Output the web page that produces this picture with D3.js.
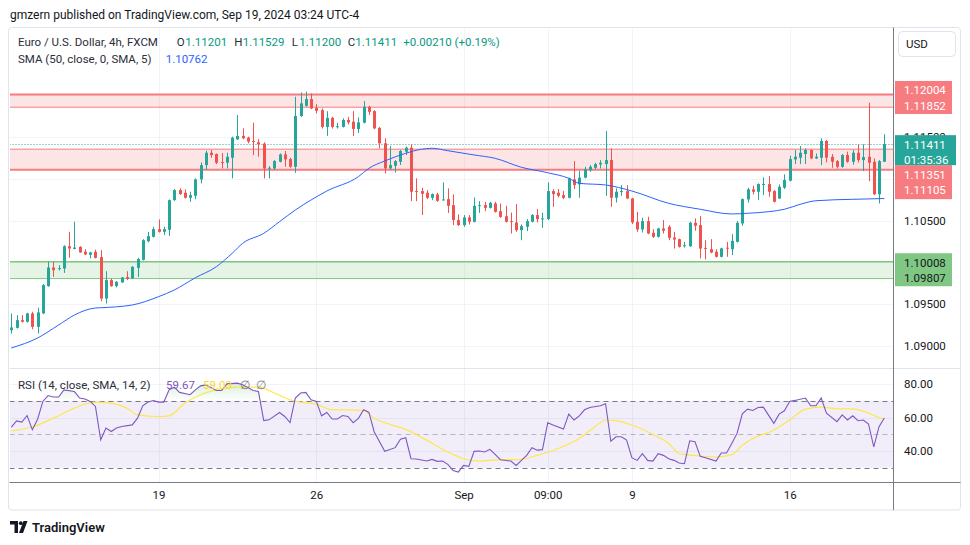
<!DOCTYPE html>
<html><head><meta charset="utf-8">
<script src="https://cdn.jsdelivr.net/npm/d3@7"></script>
<style>
body{margin:0;background:#fff;}
svg{display:block;font-family:Roboto,"Noto Sans",sans-serif;}
</style>
</head><body>
<svg id="c" width="970" height="545"></svg>
<script>
// ---------- DATA ----------
const opens=[1.09191,1.09219,1.09311,1.09291,1.09391,1.09231,1.09391,1.09717,1.09939,1.09919,1.09927,1.10193,1.10161,1.10185,1.10127,1.10091,1.10127,1.10063,1.09569,1.09789,1.09717,1.09761,1.09825,1.09809,1.09935,1.10031,1.10253,1.10305,1.10397,1.10365,1.10389,1.10743,1.10863,1.10831,1.10771,1.10795,1.10991,1.11161,1.11309,1.11293,1.11197,1.11189,1.11249,1.11469,1.11509,1.11489,1.11449,1.11433,1.11417,1.11121,1.11121,1.11201,1.11289,1.11233,1.11141,1.11747,1.11869,1.11949,1.11845,1.11817,1.11617,1.11725,1.11617,1.11617,1.11699,1.11679,1.11593,1.11667,1.11857,1.11805,1.11605,1.11421,1.11121,1.11153,1.11201,1.11321,1.11369,1.10851,1.10851,1.10831,1.10771,1.10811,1.10743,1.10755,1.10683,1.10505,1.10445,1.10537,1.10485,1.10675,1.10683,1.10651,1.10703,1.10611,1.10551,1.10493,1.10477,1.10385,1.10425,1.10485,1.10565,1.10521,1.10517,1.10851,1.10831,1.10803,1.10771,1.10991,1.10931,1.11011,1.11101,1.11129,1.11169,1.11173,1.11221,1.10771,1.10843,1.10851,1.10763,1.10485,1.10393,1.10493,1.10353,1.10305,1.10405,1.10425,1.10297,1.10277,1.10193,1.10193,1.10473,1.10445,1.10173,1.10157,1.10127,1.10067,1.10175,1.10157,1.10245,1.10465,1.10751,1.10871,1.10843,1.10927,1.10935,1.10851,1.10763,1.10891,1.10975,1.11229,1.11249,1.11293,1.11341,1.11241,1.11249,1.11449,1.11261,1.11209,1.11141,1.11281,1.11201,1.11309,1.11221,1.11261,1.11201,1.10813,1.11201];
const highs=[1.09391,1.09371,1.09371,1.09399,1.09411,1.09459,1.09741,1.10007,1.10007,1.09967,1.10205,1.10365,1.10485,1.10193,1.10157,1.10127,1.10153,1.10147,1.09895,1.09809,1.09777,1.09825,1.09895,1.09955,1.10055,1.10277,1.10365,1.10425,1.10513,1.10425,1.10751,1.10875,1.10883,1.10871,1.10843,1.11003,1.11193,1.11333,1.11341,1.11301,1.11305,1.11309,1.11501,1.11759,1.11599,1.11501,1.11667,1.11473,1.11433,1.11149,1.11221,1.11301,1.11329,1.11249,1.11977,1.12029,1.12037,1.12017,1.11889,1.11837,1.11805,1.11737,1.11667,1.11719,1.11737,1.11805,1.11731,1.11925,1.11869,1.11817,1.11617,1.11481,1.11389,1.11221,1.11341,1.11381,1.11409,1.11003,1.10891,1.10863,1.10823,1.10831,1.10955,1.10883,1.10811,1.10573,1.10565,1.10565,1.10775,1.10731,1.10723,1.10723,1.10723,1.10703,1.10675,1.10595,1.10695,1.10453,1.10517,1.10577,1.10637,1.10593,1.10955,1.10875,1.10875,1.10855,1.11011,1.11209,1.11091,1.11141,1.11161,1.11189,1.11221,1.11569,1.11361,1.10883,1.10923,1.10923,1.10771,1.10603,1.10533,1.10545,1.10397,1.10413,1.10505,1.10445,1.10365,1.10285,1.10245,1.10485,1.10525,1.10553,1.10265,1.10277,1.10157,1.10175,1.10245,1.10337,1.10493,1.10763,1.10891,1.10915,1.10943,1.11015,1.11031,1.10863,1.10931,1.11051,1.11273,1.11341,1.11389,1.11361,1.11349,1.11301,1.11481,1.11461,1.11293,1.11221,1.11293,1.11321,1.11341,1.11409,1.11409,1.11905,1.11241,1.11221,1.11529];
const lows=[1.09151,1.09211,1.09283,1.09283,1.09203,1.09151,1.09383,1.09709,1.09827,1.09903,1.09875,1.10055,1.10157,1.10115,1.10087,1.10047,1.10047,1.09537,1.09509,1.09709,1.09701,1.09757,1.09789,1.09801,1.09827,1.10023,1.10237,1.10297,1.10357,1.10325,1.10317,1.10735,1.10803,1.10763,1.10723,1.10755,1.10943,1.11105,1.11249,1.11173,1.11121,1.11121,1.11003,1.11461,1.11469,1.11421,1.11281,1.11261,1.11003,1.11003,1.11101,1.11193,1.11141,1.11129,1.11069,1.11739,1.11857,1.11829,1.11777,1.11597,1.11509,1.11597,1.11597,1.11609,1.11647,1.11509,1.11545,1.11659,1.11759,1.11589,1.11361,1.11061,1.11109,1.11073,1.11161,1.11281,1.10731,1.10731,1.10565,1.10755,1.10743,1.10723,1.10739,1.10591,1.10445,1.10433,1.10425,1.10453,1.10477,1.10591,1.10611,1.10643,1.10595,1.10531,1.10477,1.10345,1.10365,1.10265,1.10373,1.10477,1.10477,1.10413,1.10505,1.10663,1.10775,1.10755,1.10763,1.10875,1.10771,1.11003,1.11081,1.11113,1.11121,1.10795,1.10663,1.10715,1.10795,1.10755,1.10457,1.10365,1.10357,1.10337,1.10293,1.10297,1.10345,1.10265,1.10165,1.10177,1.10177,1.10185,1.10377,1.10047,1.10035,1.10109,1.10059,1.10059,1.10067,1.10087,1.10237,1.10437,1.10715,1.10811,1.10743,1.10803,1.10783,1.10715,1.10755,1.10875,1.10967,1.11173,1.11173,1.11173,1.11233,1.11233,1.11161,1.11193,1.11129,1.11121,1.11129,1.11189,1.11165,1.11193,1.11089,1.10969,1.10803,1.10703,1.11200];
const closes=[1.09223,1.09311,1.09291,1.09391,1.09231,1.09403,1.09729,1.09939,1.09907,1.09931,1.10193,1.10165,1.10177,1.10119,1.10095,1.10119,1.10055,1.09569,1.09789,1.09717,1.09769,1.09821,1.09805,1.09947,1.10039,1.10265,1.10313,1.10397,1.10365,1.10397,1.10743,1.10863,1.10815,1.10771,1.10803,1.10991,1.11161,1.11309,1.11281,1.11189,1.11189,1.11261,1.11489,1.11509,1.11481,1.11441,1.11437,1.11409,1.11121,1.11129,1.11209,1.11289,1.11229,1.11141,1.11747,1.11897,1.11949,1.11837,1.11809,1.11617,1.11725,1.11617,1.11625,1.11699,1.11671,1.11593,1.11671,1.11857,1.11797,1.11599,1.11421,1.11121,1.11161,1.11209,1.11329,1.11369,1.10843,1.10843,1.10819,1.10771,1.10815,1.10735,1.10751,1.10675,1.10505,1.10445,1.10537,1.10485,1.10675,1.10683,1.10651,1.10711,1.10603,1.10543,1.10485,1.10485,1.10385,1.10433,1.10493,1.10565,1.10517,1.10525,1.10851,1.10815,1.10795,1.10771,1.11003,1.10923,1.11011,1.11113,1.11141,1.11173,1.11189,1.11221,1.10771,1.10843,1.10851,1.10763,1.10477,1.10393,1.10493,1.10345,1.10305,1.10405,1.10377,1.10293,1.10273,1.10185,1.10205,1.10473,1.10437,1.10165,1.10165,1.10117,1.10067,1.10167,1.10167,1.10257,1.10473,1.10755,1.10871,1.10843,1.10935,1.10935,1.10843,1.10723,1.10903,1.10983,1.11233,1.11261,1.11309,1.11341,1.11241,1.11261,1.11449,1.11249,1.11201,1.11141,1.11281,1.11201,1.11309,1.11221,1.11257,1.11189,1.10813,1.11209,1.11411];

const smaBars=[0,5,9,12,16,17,23,28,31,35,39,42,44,48,51,54,57,60,66,68,71,75,78,80,83,88,92,97,102,106,108,113,118,125,131,137,140,144,147,150,153,160,166];
const smaVals=[1.08979,1.09098,1.09253,1.09372,1.09456,1.09459,1.09492,1.09591,1.09671,1.09817,1.09949,1.10109,1.10228,1.10347,1.10486,1.10625,1.10745,1.10852,1.11023,1.11123,1.11210,1.11302,1.11350,1.11362,1.11333,1.11282,1.11242,1.11135,1.11070,1.11004,1.10944,1.10924,1.10852,1.10705,1.10634,1.10578,1.10586,1.10605,1.10634,1.10693,1.10736,1.10753,1.10762];

const rsiBars=[0,1,2,3,4,5,6,7,8,9,10,12,13,14,15,16,17,18,19,20,21,23,24,25,26,27,28,29,30,31,32,34,35,36,37,39,40,41,43,44,46,47,48,49,51,52,53,54,55,56,57,58,59,60,61,62,63,64,65,66,67,68,69,71,73,74,75,76,77,79,80,81,82,83,84,85,86,87,88,89,90,91,92,93,95,96,97,98,99,100,101,102,103,105,106,107,108,109,110,112,113,114,115,116,117,118,119,120,121,122,123,124,125,126,127,128,129,130,131,132,134,135,136,137,138,139,140,141,142,143,145,146,147,148,149,151,152,153,154,155,157,158,159,160,161,162,163,164,165,166];
const rsiVals=[54.3,58,57.3,61.2,52.7,59,69.6,73.1,72.2,72.2,76.5,75.5,71.6,71,69.6,66.6,46.7,53.7,51.6,53.7,54.6,55.6,59.6,67,69.2,70.1,69.2,69.2,76.5,78.1,75,73.6,76.5,78.9,79.5,76.1,76.1,80.1,80.5,79.5,76.1,75.5,58.2,58.6,63,60.6,57,71.6,74.6,75,70.6,69.6,61,63,59.1,59.1,61.2,60.6,56.9,59.5,64.6,63,51.5,39.8,42,47.1,47.9,35.4,35.2,34,35,33.8,34,32,28.4,27.4,31.4,30.8,39.8,40,39.4,41,38,34.8,34,31.4,34.4,37.4,42,40.5,40.8,56.9,55.5,53.1,62,58.5,61,64.6,66,67,68.2,45.9,48.5,48.5,46.5,36,34.4,38.4,34.4,34,38.4,37.4,35.4,34.4,32.8,32.4,46.1,45.5,36.8,36,34,38.8,38.8,44.5,50.5,62.2,65,64.2,66,66.2,56.5,62,64,69.6,70.2,71.6,67,67,71.6,62.6,57.5,61.6,58.5,61,58.1,58.5,56.1,42.5,54.5,59.67];
const rsiMaBars=[0,4,8,12,16,19,22,24,28,30,33,36,39,43,47,50,53,55,58,61,64,67,69,72,75,79,83,86,89,93,96,100,104,108,111,113,115,118,122,125,127,131,134,137,139,141,145,148,151,154,157,160,163,165,166];
const rsiMaVals=[52,54.3,59.6,65.6,69.2,68.6,65.6,61.6,60.6,61,68.6,73.6,76.5,78.1,78.1,74.6,70.6,69.2,68,64.6,64.6,64.2,59.5,55.9,52.9,46.5,39.4,35.4,34,34.8,34.8,37.4,41.5,47.5,54.5,58.5,58.1,55.5,49.9,44.5,38.4,37,36.4,37.8,43.5,47.5,52.5,58.5,65,66.2,65.2,65.2,62.6,60,59.03];

const timeTickBars=[28,58,86,102,118,148];
const timeTickLabels=["19","26","Sep","09:00","9","16"];
const priceTicks=[1.09,1.095,1.10,1.105,1.11,1.115,1.12];
const rsiTicks=[40,60,80];
const redZones=[[1.12004,1.11852],[1.11351,1.11105]];
const greenZone=[1.10008,1.09807];
const lastClose=1.11411;
const countdown="01:35:36";
const legendOHLC=[["O","1.11201"],["H","1.11529"],["L","1.11200"],["C","1.11411"]];
const legendChange="+0.00210 (+0.19%)";
const smaLast="1.10762", rsiLast="59.67", rsiMaLast="59.03";

// ---------- STYLE ----------
const UP="#26a69a", DN="#ef5350", RED="#f77c80", GRN="#81c784", TXT="#131722", AX="#787b86", GRID="#f0f3fa";
const FS=11.5;

const svg=d3.select("#c");
const x=d3.scaleLinear().domain([0,166]).range([11.3,884.3]);
const y=d3.scaleLinear().domain([1.09,1.12]).range([346.2,94.8]);
const yr=d3.scaleLinear().domain([40,80]).range([451,384]);
const PL=9.5, PR=893.5, MT=27.5, MB=368, RT=368.5, RB=482, AXR=960.5;

// header
svg.append("text").attr("x",10).attr("y",14.5).attr("dominant-baseline","central")
  .attr("font-size",12).attr("fill",TXT).text("gmzern published on TradingView.com, Sep 19, 2024 03:24 UTC-4");

// frame
svg.append("rect").attr("x",PL-1).attr("y",MT).attr("width",AXR-PL+1).attr("height",510-MT)
  .attr("fill","#fff").attr("stroke","#e0e3eb").attr("rx",3);

const defs=svg.append("defs");
defs.append("clipPath").attr("id","mainClip").append("rect").attr("x",PL+0.5).attr("y",MT+0.5).attr("width",PR-PL-0.5).attr("height",MB-MT-0.5);
defs.append("clipPath").attr("id","rsiClip").append("rect").attr("x",PL+0.5).attr("y",RT).attr("width",PR-PL-0.5).attr("height",RB-RT);
defs.append("clipPath").attr("id","obClip").append("rect").attr("x",PL).attr("y",RT).attr("width",PR-PL).attr("height",yr(70)-RT);
defs.append("clipPath").attr("id","osClip").append("rect").attr("x",PL).attr("y",yr(30)).attr("width",PR-PL).attr("height",RB-yr(30));
const gOb=defs.append("linearGradient").attr("id","obGrad").attr("gradientUnits","userSpaceOnUse")
  .attr("x1",0).attr("x2",0).attr("y1",yr(100)).attr("y2",yr(70));
gOb.append("stop").attr("offset",0).attr("stop-color","#4caf50").attr("stop-opacity",0.6);
gOb.append("stop").attr("offset",1).attr("stop-color","#4caf50").attr("stop-opacity",0);
const gOs=defs.append("linearGradient").attr("id","osGrad").attr("gradientUnits","userSpaceOnUse")
  .attr("x1",0).attr("x2",0).attr("y1",yr(30)).attr("y2",yr(0));
gOs.append("stop").attr("offset",0).attr("stop-color","#f23645").attr("stop-opacity",0);
gOs.append("stop").attr("offset",1).attr("stop-color","#f23645").attr("stop-opacity",0.6);

// grids
const grid=svg.append("g");
grid.selectAll(".vg").data(timeTickBars).join("line")
  .attr("x1",d=>Math.round(x(d))+0.5).attr("x2",d=>Math.round(x(d))+0.5).attr("y1",MT+1).attr("y2",RB)
  .attr("stroke",GRID);
grid.selectAll(".hg").data(priceTicks).join("line")
  .attr("x1",PL+1).attr("x2",PR).attr("y1",d=>Math.round(y(d))+0.5).attr("y2",d=>Math.round(y(d))+0.5)
  .attr("stroke",GRID);
grid.selectAll(".rg").data(rsiTicks).join("line")
  .attr("x1",PL+1).attr("x2",PR).attr("y1",d=>Math.round(yr(d))+0.5).attr("y2",d=>Math.round(yr(d))+0.5)
  .attr("stroke",GRID);

// main pane
const main=svg.append("g").attr("clip-path","url(#mainClip)");
redZones.forEach(([a,b],i)=>{
  main.append("rect").attr("x",PL).attr("width",PR-PL).attr("y",y(a)).attr("height",y(b)-y(a))
    .attr("fill",RED).attr("fill-opacity",0.2);
  main.append("line").attr("x1",PL).attr("x2",PR).attr("y1",y(a)).attr("y2",y(a)).attr("stroke",RED).attr("stroke-width",i===0?2:1);
  main.append("line").attr("x1",PL).attr("x2",PR).attr("y1",y(b)).attr("y2",y(b)).attr("stroke",RED).attr("stroke-width",i===0?1:2);
});
main.append("rect").attr("x",PL).attr("width",PR-PL).attr("y",y(greenZone[0])).attr("height",y(greenZone[1])-y(greenZone[0]))
  .attr("fill",GRN).attr("fill-opacity",0.2);
greenZone.forEach((v,i)=>main.append("line").attr("x1",PL).attr("x2",PR).attr("y1",y(v)).attr("y2",y(v))
  .attr("stroke",GRN).attr("stroke-width",i===0?1.5:1));

// current price dotted line
main.append("line").attr("x1",PL).attr("x2",PR).attr("y1",Math.round(y(lastClose))+0.5).attr("y2",Math.round(y(lastClose))+0.5)
  .attr("stroke",UP).attr("stroke-dasharray","1,2");

// candles
const idx=d3.range(opens.length);
const cg=main.append("g");
cg.selectAll(".w").data(idx).join("line")
  .attr("x1",i=>Math.round(x(i))+0.5).attr("x2",i=>Math.round(x(i))+0.5)
  .attr("y1",i=>y(highs[i])).attr("y2",i=>y(lows[i]))
  .attr("stroke",i=>closes[i]>=opens[i]?UP:DN).attr("stroke-width",1);
cg.selectAll(".b").data(idx).join("rect")
  .attr("x",i=>Math.round(x(i))-1).attr("width",3)
  .attr("y",i=>y(Math.max(opens[i],closes[i])))
  .attr("height",i=>Math.max(1,Math.abs(y(opens[i])-y(closes[i]))))
  .attr("fill",i=>closes[i]>=opens[i]?UP:DN);

// SMA
main.append("path").datum(smaBars.map((b,i)=>[b,smaVals[i]]))
  .attr("d",d3.line().x(d=>x(d[0])).y(d=>y(d[1])).curve(d3.curveMonotoneX))
  .attr("fill","none").attr("stroke","#2962ff").attr("stroke-width",1);

// RSI pane
const rsi=svg.append("g").attr("clip-path","url(#rsiClip)");
rsi.append("rect").attr("x",PL).attr("width",PR-PL).attr("y",yr(70)).attr("height",yr(30)-yr(70))
  .attr("fill","#7e57c2").attr("fill-opacity",0.1);
[[70,AX],[50,"rgba(120,123,134,0.5)"],[30,AX]].forEach(([v,c])=>
  rsi.append("line").attr("x1",PL).attr("x2",PR).attr("y1",Math.round(yr(v))+0.5).attr("y2",Math.round(yr(v))+0.5)
   .attr("stroke",c).attr("stroke-dasharray","5,4"));
const rsiPts=rsiBars.map((b,i)=>[b,rsiVals[i]]);
rsi.append("path").datum(rsiPts).attr("clip-path","url(#obClip)")
  .attr("d",d3.area().x(d=>x(d[0])).y0(yr(70)).y1(d=>yr(d[1])))
  .attr("fill","url(#obGrad)");
rsi.append("path").datum(rsiPts).attr("clip-path","url(#osClip)")
  .attr("d",d3.area().x(d=>x(d[0])).y0(yr(30)).y1(d=>yr(d[1])))
  .attr("fill","url(#osGrad)");
rsi.append("path").datum(rsiMaBars.map((b,i)=>[b,rsiMaVals[i]]))
  .attr("d",d3.line().x(d=>x(d[0])).y(d=>yr(d[1])).curve(d3.curveMonotoneX))
  .attr("fill","none").attr("stroke","#fde74c").attr("stroke-width",1.2);
rsi.append("path").datum(rsiPts)
  .attr("d",d3.line().x(d=>x(d[0])).y(d=>yr(d[1])))
  .attr("fill","none").attr("stroke","#7e57c2").attr("stroke-width",1.1);

// separators / axis lines
svg.append("line").attr("x1",PL).attr("x2",AXR).attr("y1",RT).attr("y2",RT).attr("stroke","#e0e3eb");
svg.append("line").attr("x1",PL).attr("x2",AXR).attr("y1",RB+0.5).attr("y2",RB+0.5).attr("stroke",AX);
svg.append("line").attr("x1",PR).attr("x2",PR).attr("y1",MT).attr("y2",510).attr("stroke",AX);

// price-axis labels (those hidden under the colored price tags are not drawn)
const tealTop=y(lastClose)-9;
const tagSpans=[[y(redZones[0][0])-13.5,y(redZones[0][0])+19.5],[tealTop,tealTop+64],[y(greenZone[0])-8.5,y(greenZone[0])+24.5]];
const visibleTicks=priceTicks.filter(v=>!tagSpans.some(([a,b])=>y(v)>a+2&&y(v)<b-2) || v===1.115);
const pa=svg.append("g").attr("transform",`translate(${PR},0)`)
  .call(d3.axisRight(y).tickValues(visibleTicks).tickFormat(d3.format(".5f")).tickSize(0).tickPadding(10.5));
pa.select(".domain").remove();
pa.selectAll("text").attr("font-size",FS).attr("fill",TXT).attr("font-family","Roboto,sans-serif");

// rsi axis
const ra=svg.append("g").attr("transform",`translate(${PR},0)`)
  .call(d3.axisRight(yr).tickValues(rsiTicks).tickFormat(d3.format(".2f")).tickSize(0).tickPadding(10.5));
ra.select(".domain").remove();
ra.selectAll("text").attr("font-size",FS).attr("fill",TXT).attr("font-family","Roboto,sans-serif");

// time axis
const ta=svg.append("g").attr("transform",`translate(0,${RB})`)
  .call(d3.axisBottom(x).tickValues(timeTickBars).tickFormat((d,i)=>timeTickLabels[i]).tickSize(0).tickPadding(9));
ta.select(".domain").remove();
ta.selectAll("text").attr("font-size",FS).attr("fill",TXT).attr("font-family","Roboto,sans-serif");

// price tags on the axis
function label2(top,h,fill,col,t1,t2,w){
  svg.append("rect").attr("x",PR+1.5).attr("y",top).attr("width",w).attr("height",h).attr("fill",fill);
  svg.append("text").attr("x",PR+10.5).attr("y",top+9.5).attr("dominant-baseline","central").attr("font-size",FS).attr("fill",col).text(t1);
  svg.append("text").attr("x",PR+10.5).attr("y",top+25).attr("dominant-baseline","central").attr("font-size",FS).attr("fill",col).text(t2);
}
label2(y(redZones[0][0])-13.5,33,RED,"#fff",d3.format(".5f")(redZones[0][0]),d3.format(".5f")(redZones[0][1]),57);
label2(tealTop+30,34,RED,"#fff",d3.format(".5f")(redZones[1][0]),d3.format(".5f")(redZones[1][1]),57);
label2(tealTop,30,UP,"#fff",d3.format(".5f")(lastClose),countdown,61);
label2(y(greenZone[0])-8.5,33,GRN,TXT,d3.format(".5f")(greenZone[0]),d3.format(".5f")(greenZone[1]),57);

// USD button
svg.append("rect").attr("x",898.5).attr("y",31.5).attr("width",57).attr("height",25).attr("rx",4)
  .attr("fill","#fff").attr("stroke","#e0e3eb");
svg.append("text").attr("x",906).attr("y",44).attr("dominant-baseline","central").attr("font-size",FS).attr("fill",TXT).text("USD");

// legends
const lg=svg.append("g").attr("font-size",FS);
lg.append("text").attr("x",18).attr("y",42).attr("dominant-baseline","central").attr("fill","#2a2e39").text("Euro / U.S. Dollar, 4h, FXCM");
const ohlcX=[176.7,234.3,291.7,347.7], valX=[185.3,242.7,299.3,355.3];
legendOHLC.forEach(([k,v],i)=>{
  lg.append("text").attr("x",ohlcX[i]).attr("y",42).attr("dominant-baseline","central").attr("fill","#2a2e39").text(k);
  lg.append("text").attr("x",valX[i]).attr("y",42).attr("dominant-baseline","central").attr("fill","#089981").text(v);
});
lg.append("text").attr("x",403.3).attr("y",42).attr("dominant-baseline","central").attr("fill","#089981").text(legendChange);
lg.append("text").attr("x",18).attr("y",59).attr("dominant-baseline","central").attr("fill","#2a2e39").text("SMA (50, close, 0, SMA, 5)");
lg.append("text").attr("x",165.7).attr("y",59).attr("dominant-baseline","central").attr("fill","#2962ff").text(smaLast);
lg.append("text").attr("x",18).attr("y",385).attr("dominant-baseline","central").attr("fill","#2a2e39").text("RSI (14, close, SMA, 14, 2)");
lg.append("text").attr("x",166).attr("y",385).attr("dominant-baseline","central").attr("fill","#7e57c2").text(rsiLast);
lg.append("text").attr("x",203).attr("y",385).attr("dominant-baseline","central").attr("fill","#f9d923").text(rsiMaLast);
lg.append("text").attr("x",240).attr("y",385).attr("dominant-baseline","central").attr("fill",AX).text("∅");
lg.append("text").attr("x",256).attr("y",385).attr("dominant-baseline","central").attr("fill",AX).text("∅");

// footer logo
const fg=svg.append("g").attr("fill",TXT);
fg.append("path").attr("d","M10,521 h8 v12 h-3.5 v-8.5 h-4.5 z");
fg.append("circle").attr("cx",20.8).attr("cy",523.2).attr("r",1.9);
fg.append("path").attr("d","M19,533 l4.5,-12 h4 l-4.5,12 z");
svg.append("text").attr("x",32).attr("y",527).attr("dominant-baseline","central").attr("font-size",13)
  .attr("font-weight",600).attr("fill",TXT).text("TradingView");
</script>
</body></html>
